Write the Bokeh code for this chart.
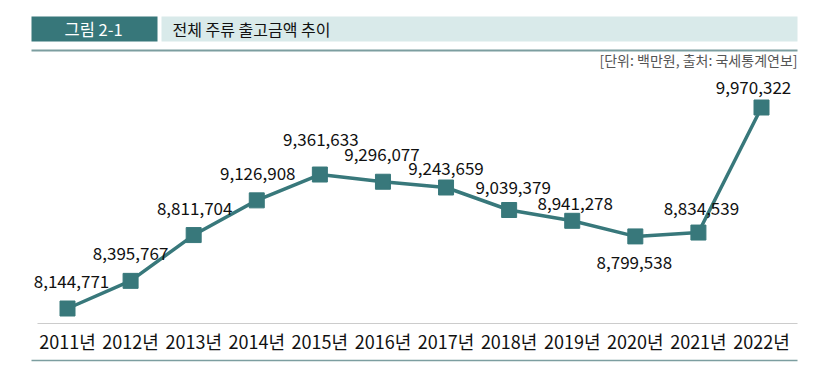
from bokeh.plotting import figure
from bokeh.models import Range1d, BoxAnnotation, Label, ColumnDataSource
from bokeh.core.properties import value
from bokeh.embed import file_html
from bokeh.resources import INLINE

years = ["2011년", "2012년", "2013년", "2014년", "2015년", "2016년",
         "2017년", "2018년", "2019년", "2020년", "2021년", "2022년"]
amounts = [8144771, 8395767, 8811704, 9126908, 9361633, 9296077,
           9243659, 9039379, 8941278, 8799538, 8834539, 9970322]
title_no = "그림 2-1"
title_text = "전체 주류 출고금액 추이"
unit_text = "[단위: 백만원, 출처: 국세통계연보]"

# label placement (screen pixel offsets from each point)
lab_dx = [4, 0, 1, 1, 1, -1, 0, 4, 3, -1, 3, -8]
lab_dy = [-27, -27, -27, -27, -35, -27, -19, -23, -17, 26, -24, -20]

W, H = 801, 367
FONT = "Noto Sans CJK KR"
TEAL = "#38787b"

# screenshot-pixel layout helpers
X0_PX, DX_PX = 67.0, (761.0 - 67.0) / 11.0
Y0_PX, SPAN_PX = 308.0, 201.0
vmin, vmax = amounts[0], max(amounts)
per_px = (vmax - vmin) / SPAN_PX


def fx(px):
    return (px - X0_PX) / DX_PX


def fy(py):
    return vmin + (Y0_PX - py) * per_px


p = figure(width=W, height=H, output_backend="svg", toolbar_location=None,
           x_range=Range1d(fx(0), fx(W)), y_range=Range1d(fy(H), fy(0)),
           x_axis_location=None, y_axis_location=None,
           min_border=0, min_border_left=0, min_border_right=0,
           min_border_top=0, min_border_bottom=0)
p.outline_line_color = None
p.xgrid.visible = False
p.ygrid.visible = False
p.background_fill_color = "white"
p.border_fill_color = "white"

# header
p.add_layout(BoxAnnotation(left=fx(31), right=fx(157), top=fy(16), bottom=fy(41),
                           fill_color="#37777a", fill_alpha=1, line_color=None))
p.add_layout(BoxAnnotation(left=fx(161), right=fx(797), top=fy(16), bottom=fy(41),
                           fill_color="#d9eaea", fill_alpha=1, line_color=None))
p.add_layout(Label(x=fx(93), y=fy(28.5), text=title_no, text_color="white",
                   text_font=FONT, text_font_size="16.5px", text_align="center",
                   text_baseline="middle"))
p.add_layout(Label(x=fx(172), y=fy(28.5), text=title_text, text_color="#111111",
                   text_font=FONT, text_font_size="16px", text_align="left",
                   text_baseline="middle"))
p.line([fx(31), fx(797)], [fy(50), fy(50)], line_color="#7c9ea0", line_width=2)
p.add_layout(Label(x=fx(797), y=fy(59), text=unit_text, text_color="#555555",
                   text_font=FONT, text_font_size="14px", text_align="right",
                   text_baseline="middle"))

# axis line and bottom rule
p.line([fx(37), fx(797)], [fy(323), fy(323)], line_color="#cccccc", line_width=1.2)
p.line([fx(31), fx(797)], [fy(360), fy(360)], line_color="#7c9ea0", line_width=1.5)

xs = list(range(len(years)))
src = ColumnDataSource(dict(x=xs, y=amounts, year=years,
                            lab=[f"{v:,}" for v in amounts],
                            dx=lab_dx, dy=lab_dy, ty=[fy(340)] * len(years)))

p.line("x", "y", source=src, line_color=TEAL, line_width=3.5)
p.scatter("x", "y", source=src, marker="square", size=15, fill_color=TEAL,
          line_color=TEAL)
p.text("x", "y", text="lab", source=src, x_offset="dx", y_offset="dy",
       text_font=value(FONT), text_font_size="17px", text_color="#111111",
       text_align="center", text_baseline="middle")
p.text("x", "ty", text="year", source=src,
       text_font=value(FONT), text_font_size="18px", text_color="#111111",
       text_align="center", text_baseline="middle")

open("out.html", "w").write(file_html(p, INLINE))
